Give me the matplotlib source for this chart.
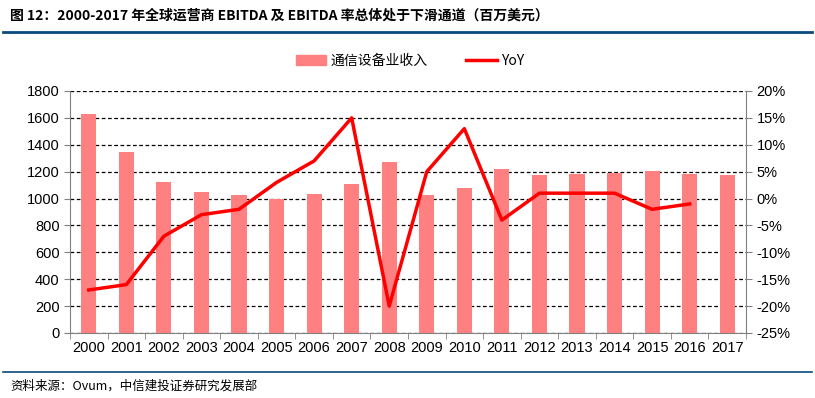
import matplotlib.pyplot as plt
import numpy as np
from matplotlib.lines import Line2D
from matplotlib.patches import Patch

years = [str(y) for y in range(2000, 2018)]
revenue = [1629, 1347, 1124, 1050, 1027, 998, 1035, 1109, 1272, 1027,
           1079, 1220, 1176, 1183, 1191, 1205, 1183, 1176]
yoy = [-17, -16, -7, -3, -2, 3, 7, 15, -20, 5, 13, -4, 1, 1, 1, -2, -1]

bar_label = "通信设备业收入"
line_label = "YoY"
title = "图 12：2000-2017 年全球运营商 EBITDA 及 EBITDA 率总体处于下滑通道（百万美元）"
source = "资料来源：Ovum，中信建投证券研究发展部"

plt.rcParams["font.family"] = ["Liberation Sans", "Noto Sans CJK SC", "DejaVu Sans"]
cjk = ["Noto Sans CJK SC", "DejaVu Sans"]

fig = plt.figure(figsize=(8.15, 3.98), dpi=100)
ax = fig.add_axes([70 / 815, 1 - 333 / 398, 676 / 815, 242 / 398])

x = np.arange(len(years))
ax.bar(x, revenue, width=0.4, color="#FF8080", zorder=2)
ax.set_xlim(-0.5, len(years) - 0.5)
ax.set_ylim(0, 1800)
ax.set_yticks(np.arange(0, 1801, 200))
ax.set_xticks(x)
ax.set_xticklabels(years)
ax.set_xticks(np.arange(-0.5, len(years), 1), minor=True)
ax.tick_params(axis="x", which="major", length=0, labelsize=10.5, pad=6)
ax.tick_params(axis="x", which="minor", length=4, color="#808080")
ax.tick_params(axis="y", length=4, color="#808080", labelsize=10.5)
ax.grid(axis="y", linestyle=(0, (3, 2)), color="black", linewidth=0.9, zorder=1)
for side in ["left", "bottom"]:
    ax.spines[side].set_color("#808080")
ax.spines["top"].set_visible(False)
ax.spines["right"].set_visible(False)

ax2 = ax.twinx()
ax2.plot(x[:len(yoy)], yoy, color="#FF0000", linewidth=2.5, zorder=3)
ax2.set_ylim(-25, 20)
ax2.set_yticks(np.arange(-25, 21, 5))
ax2.set_yticklabels([f"{v}%" for v in range(-25, 21, 5)])
ax2.tick_params(axis="y", length=4, color="#808080", labelsize=10.5)
ax2.spines["right"].set_color("#808080")
for side in ["left", "top", "bottom"]:
    ax2.spines[side].set_visible(False)

handles = [Patch(color="#FF8080"), Line2D([0], [0], color="#FF0000", linewidth=2.5)]
fig.legend(handles, [bar_label, line_label], loc="center", bbox_to_anchor=(410 / 815, 1 - 61 / 398),
           ncol=2, frameon=False, prop={"family": cjk, "size": 10}, handlelength=2.2,
           columnspacing=2.8, handletextpad=0.3)

fig.text(10 / 815, 1 - 16 / 398, title, fontsize=10, fontweight="bold", family=cjk, va="center")
fig.add_artist(Line2D([3 / 815, 812 / 815], [1 - 32 / 398] * 2, color="#0B4A80", linewidth=2))
fig.add_artist(Line2D([3 / 815, 812 / 815], [1 - 372 / 398] * 2, color="#0B4A80", linewidth=1.2))
fig.text(10 / 815, 1 - 386 / 398, source, fontsize=9, style="italic", family=cjk, va="center")

fig.savefig("out.png", dpi=100)
